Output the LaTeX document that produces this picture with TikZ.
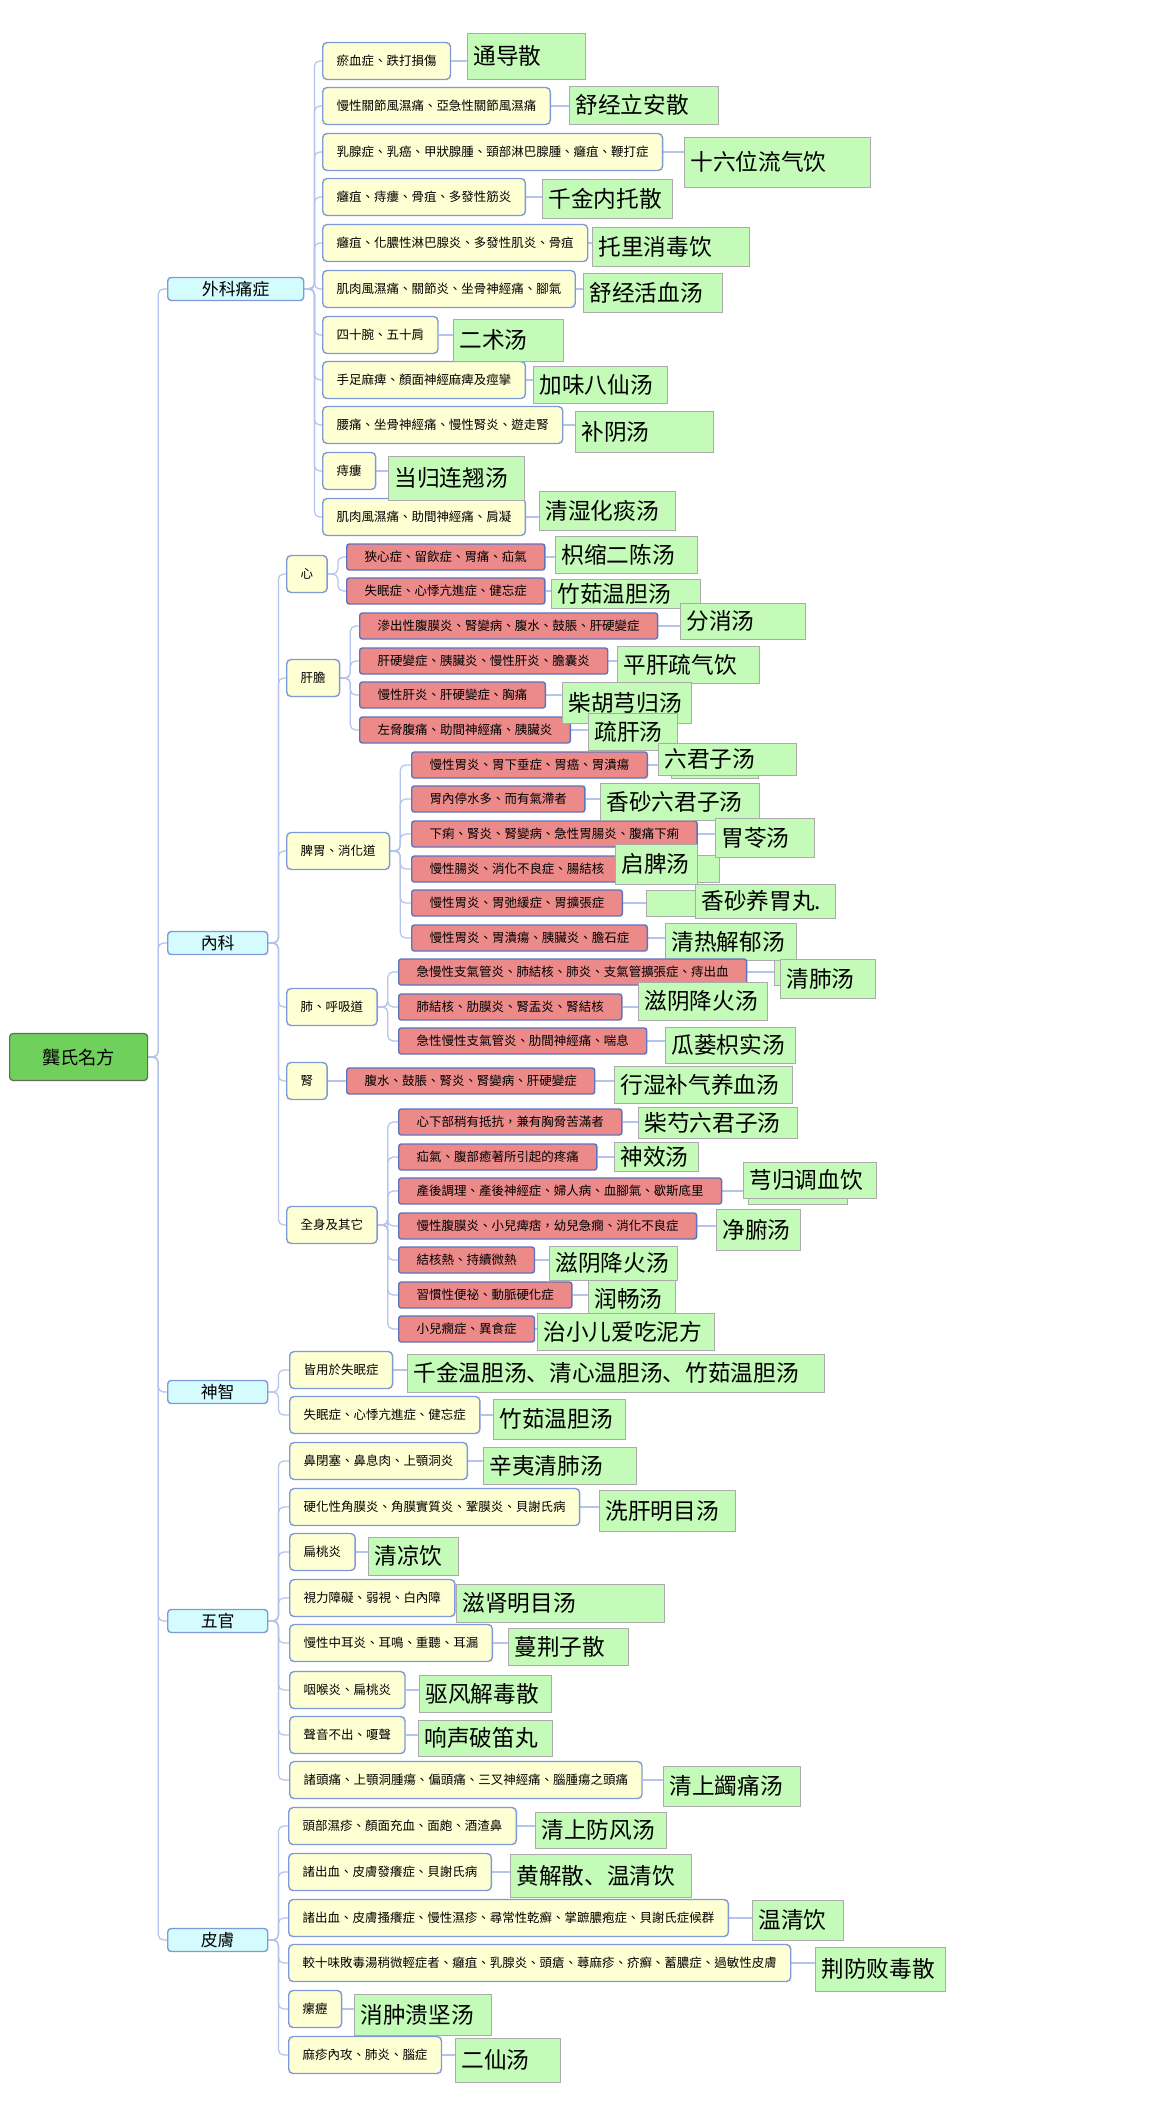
\documentclass[tikz,border=0pt]{standalone}
\usepackage{fontspec}
\setmainfont{Noto Sans CJK TC}
\newfontfamily\jian{Noto Sans CJK SC}
\usetikzlibrary{backgrounds}
\definecolor{rootfill}{HTML}{70D05C}
\definecolor{rootline}{HTML}{5E6E5A}
\definecolor{catfill}{HTML}{D4FBFD}
\definecolor{subfill}{HTML}{FFFFD4}
\definecolor{boxline}{HTML}{7E9AD8}
\definecolor{illfill}{HTML}{EC8A8A}
\definecolor{illline}{HTML}{5F72BC}
\definecolor{fangfill}{HTML}{C4FBB8}
\definecolor{fangline}{HTML}{ABABAB}
\definecolor{linkblue}{HTML}{B4C4EC}
\newlength\unitpx
\setlength\unitpx{0.02cm}
\NewDocumentCommand\fang{mm}{\makebox[#1\unitpx][l]{\hspace*{6\unitpx}#2}}
\NewDocumentCommand\xiao{}{\fontsize{7.1}{8.5}\selectfont}

\begin{document}
\begin{tikzpicture}[x=0.02cm,y=-0.02cm,
    rootbox/.style={draw=rootline,fill=rootfill,rounded corners=2pt,line width=0.7pt,minimum width=138*0.02cm,minimum height=47*0.02cm,inner sep=0pt,font=\fontsize{10.4}{12}\selectfont,anchor=west},
    catbox/.style={draw=boxline,fill=catfill,rounded corners=2pt,line width=0.8pt,minimum width=100*0.02cm,minimum height=23*0.02cm,inner ysep=0pt,font=\fontsize{9.6}{11}\selectfont,anchor=west},
    subbox/.style={draw=boxline,fill=subfill,rounded corners=2.5pt,line width=0.8pt,minimum height=37*0.02cm,inner xsep=14*0.02cm,inner ysep=0pt,font=\xiao,anchor=west},
    illbox/.style={draw=illline,fill=illfill,rounded corners=1.5pt,line width=0.8pt,minimum height=26*0.02cm,inner xsep=18*0.02cm,inner ysep=0pt,font=\xiao,anchor=west},
    fangbox/.style={draw=fangline,fill=fangfill,line width=0.5pt,inner sep=0pt,minimum height=#1*0.02cm,text height=11pt,text depth=1.5pt,anchor=north west,font=\jian\fontsize{12.9}{14}\selectfont},
    ghost/.style={draw=fangline,fill=fangfill,line width=0.5pt},
    link/.style={draw=linkblue,line width=0.7pt,rounded corners=3pt}]
  \useasboundingbox (0,0) rectangle (1170,2111);

  % root and main branches
  \node[rootbox] (R) at (9,1057) {龔氏名方};
  \node[catbox,minimum width=136*0.02cm] (WK) at (167,289) {外科痛症};
  \node[catbox] (NK) at (167,943) {內科};
  \node[catbox] (SZ) at (167,1392) {神智};
  \node[catbox] (WG) at (167,1621) {五官};
  \node[catbox] (PF) at (167,1940) {皮膚};

  % 外科痛症
  \node[subbox] (a1) at (322,61) {瘀血症、跌打損傷};
  \node[subbox] (a2) at (322,106) {慢性關節風濕痛、亞急性關節風濕痛};
  \node[subbox] (a3) at (322,152) {乳腺症、乳癌、甲狀腺腫、頸部淋巴腺腫、癰疽、鞭打症};
  \node[subbox] (a4) at (322,197) {癰疽、痔瘻、骨疽、多發性筋炎};
  \node[subbox] (a5) at (322,243) {癰疽、化膿性淋巴腺炎、多發性肌炎、骨疽};
  \node[subbox] (a6) at (322,289) {肌肉風濕痛、關節炎、坐骨神經痛、腳氣};
  \node[subbox] (a7) at (322,335) {四十腕、五十肩};
  \node[subbox] (a8) at (322,380) {手足麻痺、顏面神經麻痺及痙攣};
  \node[subbox] (a9) at (322,425) {腰痛、坐骨神經痛、慢性腎炎、遊走腎};
  \node[subbox] (a10) at (322,471) {痔瘻};
  \node[subbox] (a11) at (322,517) {肌肉風濕痛、助間神經痛、肩凝};
  \node[fangbox=46] (ga1) at (467,33) {\fang{118}{通导散}};
  \node[fangbox=38] (ga2) at (569,86) {\fang{149}{舒经立安散}};
  \node[fangbox=50] (ga3) at (684,137) {\fang{186}{十六位流气饮}};
  \node[fangbox=39] (ga4) at (542,179) {\fang{130}{千金内托散}};
  \node[fangbox=39] (ga5) at (592,227) {\fang{157}{托里消毒饮}};
  \node[fangbox=39] (ga6) at (583,273) {\fang{139}{舒经活血汤}};
  \node[fangbox=42] (ga7) at (453,319) {\fang{110}{二术汤}};
  \node[fangbox=37] (ga8) at (533,366) {\fang{134}{加味八仙汤}};
  \node[fangbox=41] (ga9) at (575,411) {\fang{138}{补阴汤}};
  \node[fangbox=44] (ga10) at (388,456) {\fang{136}{当归连翘汤}};
  \node[fangbox=39] (ga11) at (539,491) {\fang{136}{清湿化痰汤}};

  % 內科
  \node[subbox] (XIN) at (286,574) {心};
  \node[subbox] (GD) at (286,678) {肝膽};
  \node[subbox] (PW) at (286,851) {脾胃、消化道};
  \node[subbox] (FEI) at (286,1007) {肺、呼吸道};
  \node[subbox] (SHEN) at (286,1081) {腎};
  \node[subbox] (QS) at (286,1225) {全身及其它};

  \node[illbox] (b1) at (346,557) {狹心症、留飲症、胃痛、疝氣};
  \node[illbox] (b2) at (346,591) {失眠症、心悸亢進症、健忘症};
  \node[illbox] (b3) at (359,626) {滲出性腹膜炎、腎變病、腹水、鼓脹、肝硬變症};
  \node[illbox] (b4) at (359,661) {肝硬變症、胰臟炎、慢性肝炎、膽囊炎};
  \node[illbox] (b5) at (359,695) {慢性肝炎、肝硬變症、胸痛};
  \node[illbox] (b6) at (359,730) {左脅腹痛、助間神經痛、胰臟炎};
  \node[fangbox=37] (gb1) at (555,536) {\fang{142}{枳缩二陈汤}};
  \node[fangbox=29] (gb2) at (551,579) {\fang{149}{竹茹温胆汤}};
  \node[fangbox=36] (gb3) at (680,603) {\fang{125}{分消汤}};
  \node[fangbox=37] (gb4) at (617,646) {\fang{142}{平肝疏气饮}};
  \node[fangbox=41] (gb5) at (562,682) {\fang{129}{柴胡芎归汤}};
  \node[fangbox=37] (gb6) at (588,713) {\fang{89}{疏肝汤}};

  \node[illbox] (c1) at (411,765) {慢性胃炎、胃下垂症、胃癌、胃潰瘍};
  \node[illbox] (c2) at (411,799) {胃內停水多、而有氣滯者};
  \node[illbox] (c3) at (411,834) {下痢、腎炎、腎變病、急性胃腸炎、腹痛下痢};
  \node[illbox] (c4) at (411,869) {慢性腸炎、消化不良症、腸結核};
  \node[illbox] (c5) at (411,903) {慢性胃炎、胃弛緩症、胃擴張症};
  \node[illbox] (c6) at (411,938) {慢性胃炎、胃潰瘍、胰臟炎、膽石症};
  \draw[ghost] (671,750) rectangle (758,778);
  \draw[ghost] (615,855) rectangle (719,882);
  \draw[ghost] (646,890) rectangle (695,916);
  \node[fangbox=32] (gc1) at (658,743) {\fang{138}{六君子汤}};
  \node[fangbox=37] (gc2) at (600,783) {\fang{159}{香砂六君子汤}};
  \node[fangbox=39] (gc3) at (715,818) {\fang{99}{胃苓汤}};
  \node[fangbox=40] (gc4) at (615,844) {\fang{82}{启脾汤}};
  \node[fangbox=34] (gc5) at (695,884) {\fang{140}{香砂养胃丸.}};
  \node[fangbox=37] (gc6) at (665,923) {\fang{131}{清热解郁汤}};

  \node[illbox] (d1) at (398,972) {急慢性支氣管炎、肺結核、肺炎、支氣管擴張症、痔出血};
  \node[illbox] (d2) at (398,1007) {肺結核、肋膜炎、腎盂炎、腎結核};
  \node[illbox] (d3) at (398,1041) {急性慢性支氣管炎、肋間神經痛、喘息};
  \draw[ghost] (774,960) rectangle (790,985);
  \node[fangbox=39] (gd1) at (780,959) {\fang{95}{清肺汤}};
  \node[fangbox=38] (gd2) at (638,982) {\fang{129}{滋阴降火汤}};
  \node[fangbox=36] (gd3) at (665,1027) {\fang{130}{瓜蒌枳实汤}};

  \node[illbox] (e1) at (346,1081) {腹水、鼓脹、腎炎、腎變病、肝硬變症};
  \node[fangbox=37] (ge1) at (614,1066) {\fang{178}{行湿补气养血汤}};

  \node[illbox] (f1) at (398,1122) {心下部稍有抵抗，兼有胸脅苦滿者};
  \node[illbox] (f2) at (398,1157) {疝氣、腹部癒著所引起的疼痛};
  \node[illbox] (f3) at (398,1191) {產後調理、產後神經症、婦人病、血腳氣、歇斯底里};
  \node[illbox] (f4) at (398,1226) {慢性腹膜炎、小兒痺痞，幼兒急癇、消化不良症};
  \node[illbox] (f5) at (398,1260) {結核熱、持續微熱};
  \node[illbox] (f6) at (398,1295) {習慣性便祕、動脈硬化症};
  \node[illbox] (f7) at (398,1329) {小兒癇症、異食症};
  \draw[ghost] (748,1170) rectangle (847,1204);
  \node[fangbox=31] (gf1) at (638,1107) {\fang{159}{柴芍六君子汤}};
  \node[fangbox=29] (gf2) at (614,1142) {\fang{84}{神效汤}};
  \node[fangbox=36] (gf3) at (743,1162) {\fang{133}{芎归调血饮}};
  \node[fangbox=41] (gf4) at (716,1209) {\fang{84}{净腑汤}};
  \node[fangbox=34] (gf5) at (549,1246) {\fang{128}{滋阴降火汤}};
  \node[fangbox=37] (gf6) at (588,1280) {\fang{87}{润畅汤}};
  \node[fangbox=37] (gf7) at (537,1313) {\fang{177}{治小儿爱吃泥方}};

  % 神智
  \node[subbox] (s1) at (289,1370) {皆用於失眠症};
  \node[subbox] (s2) at (289,1415) {失眠症、心悸亢進症、健忘症};
  \node[fangbox=38] (gs1) at (407,1354) {\fang{417}{千金温胆汤、清心温胆汤、竹茹温胆汤}};
  \node[fangbox=40] (gs2) at (493,1399) {\fang{132}{竹茹温胆汤}};

  % 五官
  \node[subbox] (h1) at (289,1461) {鼻閉塞、鼻息肉、上顎洞炎};
  \node[subbox] (h2) at (289,1507) {硬化性角膜炎、角膜實質炎、鞏膜炎、貝謝氏病};
  \node[subbox] (h3) at (289,1552) {扁桃炎};
  \node[subbox] (h4) at (289,1598) {視力障礙、弱視、白內障};
  \node[subbox] (h5) at (289,1643) {慢性中耳炎、耳鳴、重聽、耳漏};
  \node[subbox] (h6) at (289,1690) {咽喉炎、扁桃炎};
  \node[subbox] (h7) at (289,1735) {聲音不出、嗄聲};
  \node[subbox] (h8) at (289,1780) {諸頭痛、上顎洞腫瘍、偏頭痛、三叉神經痛、腦腫瘍之頭痛};
  \node[fangbox=37] (gh1) at (483,1447) {\fang{153}{辛夷清肺汤}};
  \node[fangbox=41] (gh2) at (599,1490) {\fang{136}{洗肝明目汤}};
  \node[fangbox=38] (gh3) at (368,1537) {\fang{90}{清凉饮}};
  \node[fangbox=38] (gh4) at (456,1584) {\fang{208}{滋肾明目汤}};
  \node[fangbox=37] (gh5) at (508,1628) {\fang{120}{蔓荆子散}};
  \node[fangbox=37] (gh6) at (419,1675) {\fang{132}{驱风解毒散}};
  \node[fangbox=36] (gh7) at (418,1720) {\fang{134}{响声破笛丸}};
  \node[fangbox=40] (gh8) at (663,1766) {\fang{137}{清上蠲痛汤}};

  % 皮膚
  \node[subbox] (p1) at (288,1826) {頭部濕疹、顏面充血、面皰、酒渣鼻};
  \node[subbox] (p2) at (288,1872) {諸出血、皮膚發癢症、貝謝氏病};
  \node[subbox] (p3) at (288,1918) {諸出血、皮膚搔癢症、慢性濕疹、尋常性乾癬、掌蹠膿疱症、貝謝氏症候群};
  \node[subbox] (p4) at (288,1963) {較十味敗毒湯稍微輕症者、癰疽、乳腺炎、頭瘡、蕁麻疹、疥癬、蓄膿症、過敏性皮膚};
  \node[subbox] (p5) at (288,2009) {瘰癧};
  \node[subbox] (p6) at (288,2055) {麻疹內攻、肺炎、腦症};
  \node[fangbox=36] (gp1) at (535,1812) {\fang{131}{清上防风汤}};
  \node[fangbox=43] (gp2) at (510,1854) {\fang{181}{黄解散、温清饮}};
  \node[fangbox=40] (gp3) at (752,1900) {\fang{91}{温清饮}};
  \node[fangbox=44] (gp4) at (815,1947) {\fang{130}{荆防败毒散}};
  \node[fangbox=41] (gp5) at (354,1994) {\fang{137}{消肿溃坚汤}};
  \node[fangbox=44] (gp6) at (455,2038) {\fang{105}{二仙汤}};

  % connectors
  \begin{pgfonlayer}{background}
    \fill[white] (0,0) rectangle (1170,2111);
    \foreach \n in {WK,NK,SZ,WG,PF} \draw[link] (R.east) -- ++(10,0) |- (\n.west);
    \foreach \n in {a1,a2,a3,a4,a5,a6,a7,a8,a9,a10,a11} \draw[link] (WK.east) -- ++(10,0) |- (\n.west);
    \foreach \n in {XIN,GD,PW,FEI,SHEN,QS} \draw[link] (NK.east) -- ++(10,0) |- (\n.west);
    \foreach \n in {b1,b2} \draw[link] (XIN.east) -- ++(10,0) |- (\n.west);
    \foreach \n in {b3,b4,b5,b6} \draw[link] (GD.east) -- ++(10,0) |- (\n.west);
    \foreach \n in {c1,c2,c3,c4,c5,c6} \draw[link] (PW.east) -- ++(10,0) |- (\n.west);
    \foreach \n in {d1,d2,d3} \draw[link] (FEI.east) -- ++(10,0) |- (\n.west);
    \draw[link] (SHEN.east) -- (e1.west);
    \foreach \n in {f1,f2,f3,f4,f5,f6,f7} \draw[link] (QS.east) -- ++(10,0) |- (\n.west);
    \foreach \n in {s1,s2} \draw[link] (SZ.east) -- ++(10,0) |- (\n.west);
    \foreach \n in {h1,h2,h3,h4,h5,h6,h7,h8} \draw[link] (WG.east) -- ++(10,0) |- (\n.west);
    \foreach \n in {p1,p2,p3,p4,p5,p6} \draw[link] (PF.east) -- ++(10,0) |- (\n.west);
    \foreach \n in {a1,a2,a3,a4,a5,a6,a7,a8,a9,a10,a11,b1,b2,b3,b4,b5,b6,c1,c2,c3,c4,c5,c6,d1,d2,d3,e1,f1,f2,f3,f4,f5,f6,f7,s1,s2,h1,h2,h3,h4,h5,h6,h7,h8,p1,p2,p3,p4,p5,p6}
      \draw[link] (\n.east) -- (\n.east -| g\n.west);
  \end{pgfonlayer}
\end{tikzpicture}
\end{document}
